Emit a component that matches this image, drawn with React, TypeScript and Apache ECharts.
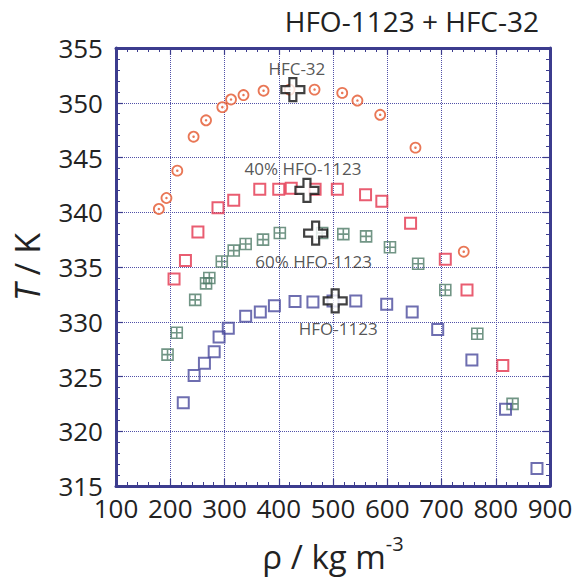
import React, { useEffect, useRef } from "react";
import * as echarts from "echarts";

const hfc32Rho = [179, 193, 213, 243, 266, 296, 312, 335, 372, 420, 466, 517, 545, 587, 652, 741];
const hfc32T = [340.3, 341.3, 343.8, 346.9, 348.4, 349.6, 350.3, 350.7, 351.1, 351.2, 351.2, 350.9, 350.2, 348.9, 345.9, 336.4];

const r40Rho = [207, 228, 251, 288, 317, 365, 400, 423, 467, 508, 560, 590, 643, 707, 747, 813];
const r40T = [333.9, 335.6, 338.2, 340.4, 341.1, 342.1, 342.1, 342.2, 342.1, 342.1, 341.6, 341.0, 339.0, 335.7, 332.9, 326.0];

const r60Rho = [195, 212, 246, 266, 272, 295, 317, 339, 371, 402, 480, 519, 561, 605, 657, 707, 766, 831];
const r60T = [327.0, 329.0, 332.0, 333.5, 334.0, 335.5, 336.5, 337.1, 337.5, 338.1, 338.1, 338.0, 337.8, 336.8, 335.3, 332.9, 328.9, 322.5];

const hfoRho = [224, 244, 263, 281, 290, 307, 339, 366, 392, 430, 463, 500, 542, 599, 646, 693, 756, 818, 876];
const hfoT = [322.6, 325.1, 326.2, 327.25, 328.6, 329.4, 330.5, 330.9, 331.45, 331.85, 331.8, 331.9, 331.9, 331.6, 330.9, 329.3, 326.5, 322.0, 316.6];

const critRho = [426, 452, 468, 504];
const critT = [351.2, 342.0, 338.1, 331.9];
const critNames = ["HFC-32", "40% HFO-1123", "60% HFO-1123", "HFO-1123"];

const xTicks = { min: 100, max: 900, interval: 100 };
const yTicks = { min: 315, max: 355, interval: 5 };

const FONT = "Open Sans";
const AXIS_COLOR = "#3c3c8e";
const TEXT = "#222";

const zip = (a: number[], b: number[]) => a.map((v, i) => [v, b[i]]);

export default function App() {
  const ref = useRef<HTMLDivElement>(null);
  useEffect(() => {
    if (!ref.current) return;
    const chart = echarts.init(ref.current, null, { renderer: "svg" });
    const labelOffsets = [
      [4, -21],
      [-4, -22],
      [-2, 28],
      [3, 28],
    ];
    const baseAxis = {
      axisLine: { show: true, onZero: false, lineStyle: { color: AXIS_COLOR, width: 3 } },
      axisTick: { show: true, inside: true, length: 7, lineStyle: { color: AXIS_COLOR, width: 1.2 } },
      minorTick: { show: true, splitNumber: 5, length: 4, lineStyle: { color: AXIS_COLOR, width: 1 } },
    };
    const option: any = {
      animation: false,
      backgroundColor: "#fff",
      textStyle: { fontFamily: FONT },
      title: {
        text: "HFO-1123 + HFC-32",
        right: 38,
        top: 2,
        textStyle: { fontFamily: FONT, fontSize: 28, fontWeight: 500, color: TEXT },
      },
      grid: { left: 116, right: 32, top: 48, bottom: 92 },
      xAxis: [
        {
          type: "value",
          ...xTicks,
          position: "bottom",
          ...baseAxis,
          axisLabel: { fontFamily: FONT, fontSize: 26, color: TEXT, margin: 12, lineHeight: 20 },
          splitLine: { show: true, lineStyle: { color: "#5050a8", type: "dotted", width: 1 } },
          name: "{a|ρ / kg m}{s|-3}",
          nameLocation: "middle",
          nameGap: 47,
          nameTextStyle: {
            rich: {
              a: { fontFamily: FONT, fontSize: 33, color: TEXT, lineHeight: 46 },
              s: { fontFamily: FONT, fontSize: 20, color: TEXT, verticalAlign: "top", lineHeight: 22 },
            },
          },
        },
        {
          type: "value",
          ...xTicks,
          position: "top",
          ...baseAxis,
          axisLabel: { show: false },
          splitLine: { show: false },
        },
      ],
      yAxis: [
        {
          type: "value",
          ...yTicks,
          position: "left",
          ...baseAxis,
          axisLabel: { fontFamily: FONT, fontSize: 26, color: TEXT, margin: 13, lineHeight: 20 },
          splitLine: { show: true, lineStyle: { color: "#5050a8", type: "dotted", width: 1 } },
          name: "{i|T} / K",
          nameLocation: "middle",
          nameGap: 72,
          nameRotate: 90,
          nameTextStyle: {
            rich: {
              i: { fontFamily: FONT, fontSize: 34, color: TEXT, fontStyle: "italic" },
            },
            fontFamily: FONT,
            fontSize: 34,
            color: TEXT,
          },
        },
        {
          type: "value",
          ...yTicks,
          position: "right",
          ...baseAxis,
          axisLabel: { show: false },
          splitLine: { show: false },
        },
      ],
      series: [
        {
          type: "scatter",
          name: "HFC-32",
          data: zip(hfc32Rho, hfc32T),
          symbol: "circle",
          symbolSize: 10,
          itemStyle: { color: "#fff", borderColor: "#e4552c", borderWidth: 1.8 },
          z: 3,
        },
        {
          type: "scatter",
          name: "HFC-32 dot",
          data: zip(hfc32Rho, hfc32T),
          symbol: "circle",
          symbolSize: 2.5,
          itemStyle: { color: "#e4552c" },
          silent: true,
          z: 4,
        },
        {
          type: "scatter",
          name: "40% HFO-1123",
          data: zip(r40Rho, r40T),
          symbol: "rect",
          symbolSize: 11,
          itemStyle: { color: "rgba(255,255,255,0)", borderColor: "#e4344e", borderWidth: 2 },
          z: 3,
        },
        {
          type: "scatter",
          name: "60% HFO-1123",
          data: zip(r60Rho, r60T),
          symbol: "path://M0,0L12,0L12,12L0,12Z M6,0L6,12 M0,6L12,6",
          symbolSize: 11,
          itemStyle: { color: "rgba(255,255,255,0)", borderColor: "#4d7a66", borderWidth: 1.6 },
          z: 3,
        },
        {
          type: "scatter",
          name: "HFO-1123",
          data: zip(hfoRho, hfoT),
          symbol: "rect",
          symbolSize: 11,
          itemStyle: { color: "rgba(255,255,255,0)", borderColor: "#4a4a9c", borderWidth: 2 },
          z: 3,
        },
        {
          type: "scatter",
          name: "critical",
          data: critRho.map((x, i) => ({
            value: [x, critT[i]],
            name: critNames[i],
            label: { offset: labelOffsets[i] },
          })),
          symbol: "path://M8,0L15,0L15,8L23,8L23,15L15,15L15,23L8,23L8,15L0,15L0,8L8,8Z",
          symbolSize: 23,
          itemStyle: { color: "#fff", borderColor: "#111", borderWidth: 2.2 },
          label: {
            show: true,
            position: "inside",
            formatter: "{b}",
            fontFamily: FONT,
            fontSize: 17,
            color: "#2a2a2a",
            align: "center",
            verticalAlign: "middle",
          },
          z: 10,
        },
      ],
    };
    chart.setOption(option);
    return () => chart.dispose();
  }, []);
  return <div ref={ref} style={{ width: 582, height: 578, position: "absolute", left: 0, top: 0 }} />;
}
